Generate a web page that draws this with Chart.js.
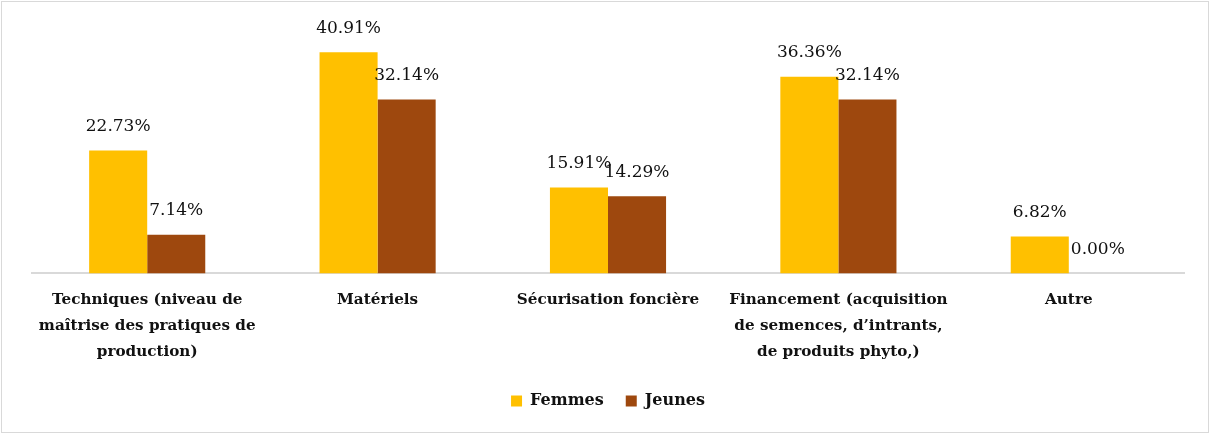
<!DOCTYPE html>
<html>
<head>
<meta charset="utf-8">
<script src="https://cdn.jsdelivr.net/npm/chart.js@4.4.0/dist/chart.umd.min.js"></script>
<style>
  html, body { margin: 0; padding: 0; background: #fff; }
  #wrap {
    position: absolute; left: 1px; top: 1px;
    width: 1208px; height: 432px;
    border: 1px solid #d9d9d9; box-sizing: border-box;
  }
  canvas { display: block; }
</style>
</head>
<body>
<div id="wrap"><canvas id="barChart"></canvas></div>
<script>
"use strict"

// chart data
// -----------------
var categories = [
    ["Techniques (niveau de", "maîtrise des pratiques de", "production)"],
    "Matériels",
    "Sécurisation foncière",
    ["Financement (acquisition", "de semences, d\u2019intrants,", "de produits phyto,)"],
    "Autre"
];
var femmes = [22.73, 40.91, 15.91, 36.36, 6.82];
var jeunes = [7.14, 32.14, 14.29, 32.14, 0.00];
var seriesNames = ["Femmes", "Jeunes"];
var seriesColors = ["#FFC000", "#9E480E"];

var serif = "'DejaVu Serif', 'Liberation Serif', serif";

// value labels above each bar
// -----------------
var valueLabels = {
    id: 'valueLabels',
    afterDatasetsDraw: function(chart) {
        var ctx = chart.ctx;
        ctx.save();
        ctx.font = "17px " + serif;
        ctx.fillStyle = "#111";
        ctx.textAlign = "center";
        ctx.textBaseline = "middle";
        chart.data.datasets.forEach(function(ds, i) {
            var meta = chart.getDatasetMeta(i);
            meta.data.forEach(function(bar, j) {
                ctx.fillText(ds.data[j].toFixed(2) + "%", bar.x, bar.y - 24);
            });
        });
        ctx.restore();
    }
};

var data = {
    labels: categories,
    datasets: [{
        label: seriesNames[0],
        data: femmes,
        backgroundColor: seriesColors[0],
        borderWidth: 0
    }, {
        label: seriesNames[1],
        data: jeunes,
        backgroundColor: seriesColors[1],
        borderWidth: 0
    }]
};

new Chart(document.getElementById("barChart"), {
    type: 'bar',
    data: data,
    plugins: [valueLabels],
    options: {
        responsive: true,
        maintainAspectRatio: false,
        animation: false,
        layout: {
            padding: { left: 30, right: 24, top: 28, bottom: 13 }
        },
        datasets: {
            bar: { categoryPercentage: 0.504, barPercentage: 1.0 }
        },
        plugins: {
            legend: {
                position: 'bottom',
                labels: {
                    boxWidth: 11,
                    boxHeight: 11,
                    padding: 22,
                    color: "#111",
                    font: { family: serif, size: 16, weight: 'bold' }
                }
            },
            tooltip: { enabled: false }
        },
        scales: {
            x: {
                grid: { display: false },
                border: { display: true, color: "#d9d9d9", width: 2 },
                ticks: {
                    autoSkip: false,
                    maxRotation: 0,
                    padding: 6,
                    color: "#111",
                    font: { family: serif, size: 15.2, weight: 'bold', lineHeight: 1.7 }
                }
            },
            y: {
                display: false,
                min: 0,
                max: 45
            }
        }
    }
});
</script>
</body>
</html>
